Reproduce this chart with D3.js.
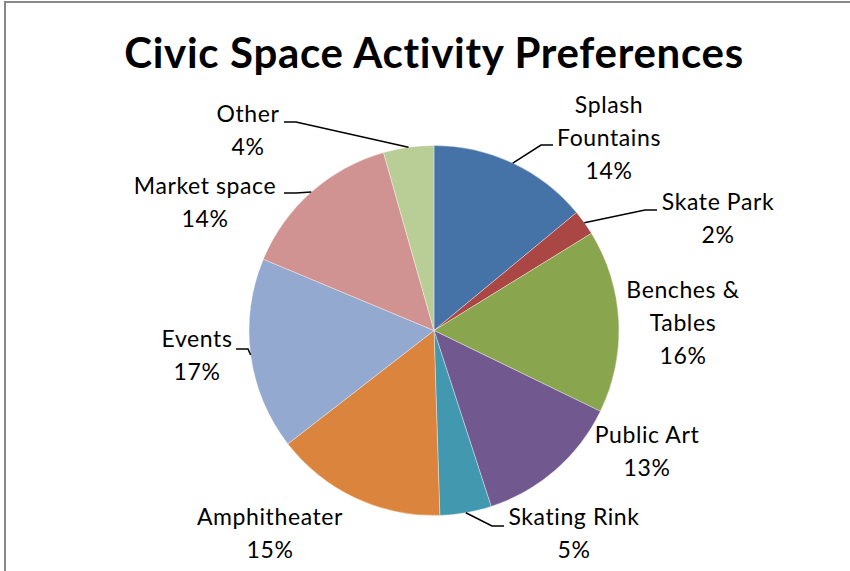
<!DOCTYPE html>
<html>
<head>
<meta charset="utf-8">
<script src="https://cdn.jsdelivr.net/npm/d3@7"></script>
<style>
  html, body { margin: 0; padding: 0; background: #fff; }
  svg { display: block; }
</style>
</head>
<body>
<svg id="chart" width="850" height="571"></svg>
<script>
// ---- data ----
const categories = ["Splash Fountains", "Skate Park", "Benches & Tables", "Public Art", "Skating Rink", "Amphitheater", "Events", "Market space", "Other"];
const values = [14.0, 2.2, 16.0, 12.8, 4.5, 15.0, 16.8, 14.3, 4.4];
const labelLines = [["Splash", "Fountains"], ["Skate Park"], ["Benches &", "Tables"], ["Public Art"], ["Skating Rink"], ["Amphitheater"], ["Events"], ["Market space"], ["Other"]];
const colors = ["#4572A7", "#AA4643", "#89A54E", "#71588F", "#4198AF", "#DB843D", "#93A9CF", "#D19392", "#B9CD96"];
const title = "Civic Space Activity Preferences";

// ---- layout (not data) ----
const cx = 434, cy = 330.5, R = 185;
const labelFont = "Lato, 'Open Sans', sans-serif";
const labelSize = 23, lineH = 33;
// label center x and first baseline y; leader end point (null = no leader)
const labelLayout = [
  {x: 609, y: 113, leader: {x: 553, y: 145, side: 1}},
  {x: 718, y: 210, leader: {x: 657, y: 210, side: 1}},
  {x: 683, y: 298, leader: null},
  {x: 647, y: 443, leader: null},
  {x: 574, y: 525, leader: {x: 504, y: 526, side: 1}},
  {x: 270, y: 525, leader: null},
  {x: 197, y: 347, leader: {x: 236, y: 349, side: -1}},
  {x: 205, y: 194, leader: {x: 284, y: 193, side: -1}},
  {x: 248, y: 122, leader: {x: 284, y: 122, side: -1}}
];

const svg = d3.select("#chart");

// frame
svg.append("path")
  .attr("d", "M5,571 V2 H850")
  .attr("fill", "none")
  .attr("stroke", "#888")
  .attr("stroke-width", 2);

// title
svg.append("text")
  .attr("x", 434).attr("y", 68)
  .attr("text-anchor", "middle")
  .attr("font-family", labelFont)
  .attr("font-weight", 700)
  .attr("font-size", 42)
  .attr("letter-spacing", 0.7)
  .attr("fill", "#000")
  .text(title);

const data = categories.map((c, i) => ({name: c, value: values[i], i}));
const pie = d3.pie().value(d => d.value).sort(null).startAngle(0).endAngle(2 * Math.PI);
const arcs = pie(data);
const arc = d3.arc().innerRadius(0).outerRadius(R);

const g = svg.append("g").attr("transform", `translate(${cx},${cy})`);
g.selectAll("path.slice").data(arcs).join("path")
  .attr("class", "slice")
  .attr("d", arc)
  .attr("fill", d => colors[d.data.i])
  .attr("stroke", "#fff")
  .attr("stroke-width", 0.6)
  .attr("stroke-opacity", 0.6);

// leader lines
arcs.forEach(a => {
  const L = labelLayout[a.data.i];
  if (!L.leader) return;
  const mid = (a.startAngle + a.endAngle) / 2;
  const ex = cx + R * Math.sin(mid), ey = cy - R * Math.cos(mid);
  const ux = L.leader.x - L.leader.side * 12, uy = L.leader.y;
  svg.append("polyline")
    .attr("points", `${ex},${ey} ${ux},${uy} ${L.leader.x},${L.leader.y}`)
    .attr("fill", "none")
    .attr("stroke", "#000")
    .attr("stroke-width", 1.5);
});

// labels
arcs.forEach(a => {
  const i = a.data.i;
  const L = labelLayout[i];
  const lines = labelLines[i].concat([Math.round(values[i]) + "%"]);
  const t = svg.append("text")
    .attr("text-anchor", "middle")
    .attr("font-family", labelFont)
    .attr("font-size", labelSize)
    .attr("letter-spacing", 0.6)
    .attr("fill", "#000");
  lines.forEach((ln, k) => {
    t.append("tspan").attr("x", L.x).attr("y", L.y + k * lineH).text(ln);
  });
});
</script>
</body>
</html>
